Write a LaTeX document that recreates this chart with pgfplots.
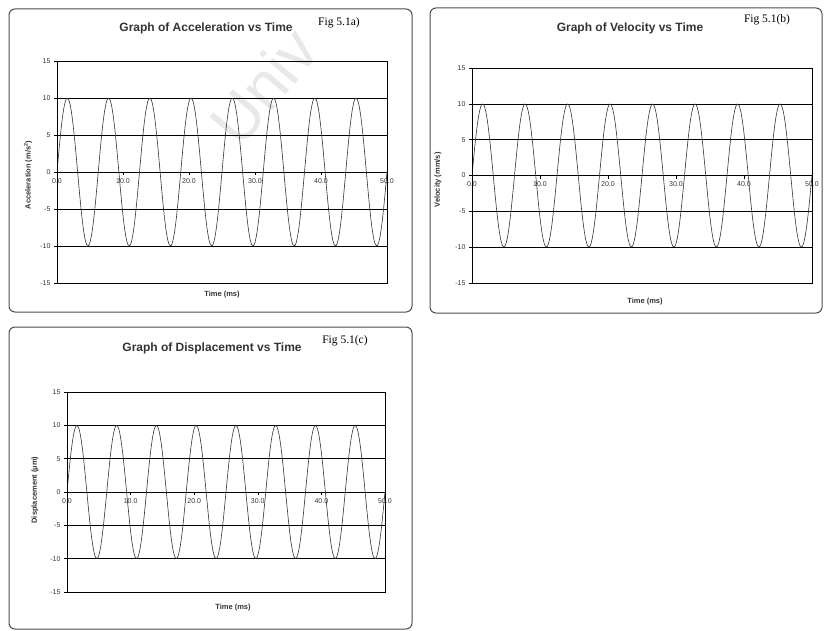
\documentclass[border=0pt]{standalone}
\usepackage{pgfplots}
\usepackage{pgfplotstable}
\pgfplotsset{compat=1.18}
\usepackage{fontspec}
\setmainfont{Liberation Sans}
\newfontfamily\figfont{Liberation Serif}

% one sampled wave (period ~6.25 ms, amplitude 10), shared by the three traces
\pgfplotstableread[row sep=\\]{
t y\\
0 0\\ 0.25 2.49\\ 0.5 4.82\\ 0.75 6.85\\ 1 8.44\\ 1.25 9.51\\ 1.5 9.98\\ 1.75 9.82\\ 2 9.05\\ 2.25 7.71\\ 2.5 5.88\\ 2.75 3.68\\ 3 1.25\\ 3.25 -1.25\\ 3.5 -3.68\\ 3.75 -5.88\\ 4 -7.71\\ 4.25 -9.05\\ 4.5 -9.82\\ 4.75 -9.98\\ 5 -9.51\\ 5.25 -8.44\\ 5.5 -6.85\\ 5.75 -4.82\\ 6 -2.49\\
6.25 0\\ 6.5 2.49\\ 6.75 4.82\\ 7 6.85\\ 7.25 8.44\\ 7.5 9.51\\ 7.75 9.98\\ 8 9.82\\ 8.25 9.05\\ 8.5 7.71\\ 8.75 5.88\\ 9 3.68\\ 9.25 1.25\\ 9.5 -1.25\\ 9.75 -3.68\\ 10 -5.88\\ 10.25 -7.71\\ 10.5 -9.05\\ 10.75 -9.82\\ 11 -9.98\\ 11.25 -9.51\\ 11.5 -8.44\\ 11.75 -6.85\\ 12 -4.82\\ 12.25 -2.49\\
12.5 0\\ 12.75 2.49\\ 13 4.82\\ 13.25 6.85\\ 13.5 8.44\\ 13.75 9.51\\ 14 9.98\\ 14.25 9.82\\ 14.5 9.05\\ 14.75 7.71\\ 15 5.88\\ 15.25 3.68\\ 15.5 1.25\\ 15.75 -1.25\\ 16 -3.68\\ 16.25 -5.88\\ 16.5 -7.71\\ 16.75 -9.05\\ 17 -9.82\\ 17.25 -9.98\\ 17.5 -9.51\\ 17.75 -8.44\\ 18 -6.85\\ 18.25 -4.82\\ 18.5 -2.49\\
18.75 0\\ 19 2.49\\ 19.25 4.82\\ 19.5 6.85\\ 19.75 8.44\\ 20 9.51\\ 20.25 9.98\\ 20.5 9.82\\ 20.75 9.05\\ 21 7.71\\ 21.25 5.88\\ 21.5 3.68\\ 21.75 1.25\\ 22 -1.25\\ 22.25 -3.68\\ 22.5 -5.88\\ 22.75 -7.71\\ 23 -9.05\\ 23.25 -9.82\\ 23.5 -9.98\\ 23.75 -9.51\\ 24 -8.44\\ 24.25 -6.85\\ 24.5 -4.82\\ 24.75 -2.49\\
25 0\\ 25.25 2.49\\ 25.5 4.82\\ 25.75 6.85\\ 26 8.44\\ 26.25 9.51\\ 26.5 9.98\\ 26.75 9.82\\ 27 9.05\\ 27.25 7.71\\ 27.5 5.88\\ 27.75 3.68\\ 28 1.25\\ 28.25 -1.25\\ 28.5 -3.68\\ 28.75 -5.88\\ 29 -7.71\\ 29.25 -9.05\\ 29.5 -9.82\\ 29.75 -9.98\\ 30 -9.51\\ 30.25 -8.44\\ 30.5 -6.85\\ 30.75 -4.82\\ 31 -2.49\\
31.25 0\\ 31.5 2.49\\ 31.75 4.82\\ 32 6.85\\ 32.25 8.44\\ 32.5 9.51\\ 32.75 9.98\\ 33 9.82\\ 33.25 9.05\\ 33.5 7.71\\ 33.75 5.88\\ 34 3.68\\ 34.25 1.25\\ 34.5 -1.25\\ 34.75 -3.68\\ 35 -5.88\\ 35.25 -7.71\\ 35.5 -9.05\\ 35.75 -9.82\\ 36 -9.98\\ 36.25 -9.51\\ 36.5 -8.44\\ 36.75 -6.85\\ 37 -4.82\\ 37.25 -2.49\\
37.5 0\\ 37.75 2.49\\ 38 4.82\\ 38.25 6.85\\ 38.5 8.44\\ 38.75 9.51\\ 39 9.98\\ 39.25 9.82\\ 39.5 9.05\\ 39.75 7.71\\ 40 5.88\\ 40.25 3.68\\ 40.5 1.25\\ 40.75 -1.25\\ 41 -3.68\\ 41.25 -5.88\\ 41.5 -7.71\\ 41.75 -9.05\\ 42 -9.82\\ 42.25 -9.98\\ 42.5 -9.51\\ 42.75 -8.44\\ 43 -6.85\\ 43.25 -4.82\\ 43.5 -2.49\\
43.75 0\\ 44 2.49\\ 44.25 4.82\\ 44.5 6.85\\ 44.75 8.44\\ 45 9.51\\ 45.25 9.98\\ 45.5 9.82\\ 45.75 9.05\\ 46 7.71\\ 46.25 5.88\\ 46.5 3.68\\ 46.75 1.25\\ 47 -1.25\\ 47.25 -3.68\\ 47.5 -5.88\\ 47.75 -7.71\\ 48 -9.05\\ 48.25 -9.82\\ 48.5 -9.98\\ 48.75 -9.51\\ 49 -8.44\\ 49.25 -6.85\\ 49.5 -4.82\\ 49.75 -2.49\\ 50 0\\
}\wave

\pgfplotsset{
  panel/.style={
    scale only axis,
    xmin=0, xmax=50, ymin=-15, ymax=15,
    axis x line=middle, axis y line=left,
    axis line style={-, black, line width=0.6pt},
    hide obscured x ticks=false, hide obscured y ticks=false,
    xtick={0,10,20,30,40,50},
    xticklabels={0.0,10.0,20.0,30.0,40.0,50.0},
    ytick={-15,-10,-5,0,5,10,15},
    ymajorgrids=true,
    grid style={black, line width=0.6pt},
    tick style={black, line width=0.5pt},
    major tick length=3pt,
    tick align=outside,
    ticklabel style={font=\fontsize{7}{8}\selectfont, text=black!80},
    /pgf/number format/assume math mode=true,
    after end axis/.code={\draw[black, line width=0.6pt] (rel axis cs:0,0) rectangle (rel axis cs:1,1);},
  },
  wave/.style={black!80, line width=0.6pt, smooth, no markers},
}
\tikzset{
  ttl/.style={font=\bfseries\fontsize{12}{14}\selectfont, text=black!80},
  fig/.style={font=\figfont\fontsize{11.5}{13}\selectfont},
  lbl/.style={font=\bfseries\fontsize{7.5}{9}\selectfont, text=black!80},
}

\begin{document}
\begin{tikzpicture}
\path (0,0) rectangle (824pt,-631pt);

% faint watermark behind everything, running off the top edge
\begin{scope}
\clip (0,0) rectangle (824pt,-631pt);
\node[font=\fontsize{64}{64}\selectfont, text=black!9, rotate=50, anchor=base west, inner sep=0pt] at (240pt,-150pt) {Univ};
\end{scope}

% panel frames
\draw[black!70, line width=1pt, rounded corners=6pt] (9pt,-9pt) rectangle (412pt,-312pt);
\draw[black!70, line width=1pt, rounded corners=6pt] (430pt,-8pt) rectangle (822pt,-313pt);
\draw[black!70, line width=1pt, rounded corners=6pt] (9pt,-327pt) rectangle (412pt,-629pt);

% (a) acceleration
\begin{axis}[panel, at={(57pt,-283pt)}, anchor=south west, width=330pt, height=222pt]
\addplot[wave] table[x=t, y=y] {\wave};
\end{axis}
\node[ttl] at (206pt,-28pt) {Graph of Acceleration vs Time};
\node[fig] at (339pt,-23pt) {Fig 5.1a)};
\node[lbl, rotate=90] at (28pt,-175pt) {Acceleration (m/s\textsuperscript{2})};
\node[lbl] at (222pt,-295pt) {Time (ms)};

% (b) velocity
\begin{axis}[panel, at={(472pt,-283pt)}, anchor=south west, width=340pt, height=215pt]
\addplot[wave] table[x=t, y=y] {\wave};
\end{axis}
\node[ttl] at (630pt,-28pt) {Graph of Velocity vs Time};
\node[fig] at (767pt,-20pt) {Fig 5.1(b)};
\node[lbl, rotate=90] at (438pt,-180pt) {Velocity (mm/s)};
\node[lbl] at (645pt,-302pt) {Time (ms)};

% (c) displacement
\begin{axis}[panel, at={(67pt,-592pt)}, anchor=south west, width=318pt, height=200pt]
\addplot[wave] table[x=t, y=y] {\wave};
\end{axis}
\node[ttl] at (212pt,-348pt) {Graph of Displacement vs Time};
\node[fig] at (345pt,-341pt) {Fig 5.1(c)};
\node[lbl, rotate=90] at (35pt,-490pt) {Displacement (µm)};
\node[lbl] at (233pt,-608pt) {Time (ms)};
\end{tikzpicture}
\end{document}
